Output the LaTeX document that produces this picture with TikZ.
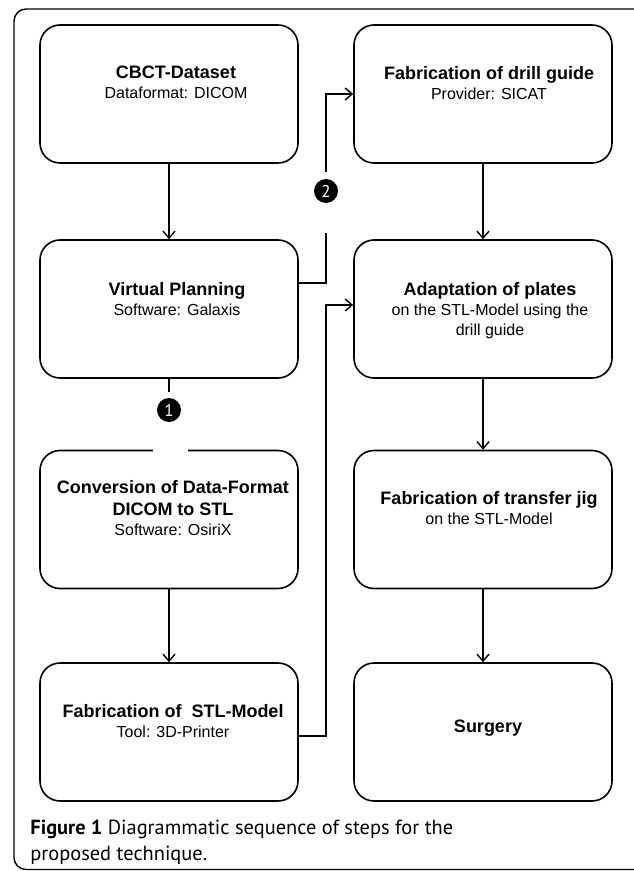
\documentclass[tikz,border=0pt]{standalone}
\usepackage{fontspec}
\setmainfont{Liberation Sans}
\newfontfamily\capfont{PT Sans}
\usetikzlibrary{arrows.meta}

\tikzset{
 stepbox/.style={draw, rounded corners=10pt, minimum width=129pt, minimum height=69pt, line width=0.8pt},
 steptext/.style={anchor=north, align=center, inner sep=0pt, font=\fontsize{8}{10}\selectfont},
 flow/.style={line width=0.7pt, -{Straight Barb[length=3.5pt,width=6pt]}},
 wire/.style={line width=0.7pt},
 numdot/.style={circle, fill=black, text=white, minimum size=12pt, inner sep=0pt, font=\capfont\fontsize{8.5}{8.5}\selectfont}
}
\newcommand{\hd}[1]{{\fontsize{9}{10}\selectfont\bfseries #1}}

\begin{document}
\begin{tikzpicture}[x=0.5pt,y=-0.5pt]
\useasboundingbox (0,0) rectangle (633,871);

%frame
\draw[line width=0.7pt, rounded corners=6pt] (700,9) -- (14,9) -- (14,869.5) -- (700,869.5);

%left column
\node[stepbox] (cbct) at (169,94) {};
\node[stepbox] (plan) at (169,309) {};
\node[stepbox] (conv) at (169,519.5) {};
\node[stepbox] (stl) at (169,732) {};

%right column
\node[stepbox] (drill) at (483,94) {};
\node[stepbox] (adapt) at (483,309) {};
\node[stepbox] (jig) at (483,519.5) {};
\node[stepbox] (surg) at (483,732) {};

%texts
\node[steptext] (cbct-t) at (176,66) {\hd{CBCT-Dataset}\\Dataformat: DICOM};
\node[steptext] (plan-t) at (177,282) {\hd{Virtual Planning}\\Software: Galaxis};
\node[steptext] (conv-t) at (173,480) {\hd{Conversion of Data-Format}\\[1pt]\hd{DICOM to STL}\\Software: OsiriX};
\node[steptext] (stl-t) at (173,704) {\hd{Fabrication of~~STL-Model}\\Tool: 3D-Printer};
\node[steptext] (drill-t) at (489,66) {\hd{Fabrication of drill guide}\\Provider: SICAT};
\node[steptext] (adapt-t) at (490,282) {\hd{Adaptation of plates}\\on the STL-Model using the\\drill guide};
\node[steptext] (jig-t) at (489,491) {\hd{Fabrication of transfer jig}\\on the STL-Model};
\node[steptext] (surg-t) at (488,720) {\hd{Surgery}};

%straight arrows
\draw[flow] (cbct) -- (plan);
\draw[flow] (conv) -- (stl);
\draw[flow] (drill) -- (adapt);
\draw[flow] (adapt) -- (jig);
\draw[flow] (jig) -- (surg);

%step 1
\node[numdot] (one) at (169,410) {1};
\draw[wire] (plan) -- ([yshift=3pt]one.north);
\draw[white, line width=2pt] (153,451) -- (188,451);

%step 2
\node[numdot] (two) at (326,191) {2};
\coordinate (up2) at ([yshift=3.5pt]two.north);
\coordinate (low2) at (326,233);
\draw[flow] (up2) |- (drill.west);
\draw[wire] (low2) |- ([yshift=13pt]plan.east);

%model to plates
\coordinate (bend) at (326,305);
\draw[flow] ([yshift=-2pt]stl.east) -| (bend) -- ([yshift=2pt]adapt.west);

%caption
\node[anchor=north west, inner sep=0pt, align=left, font=\capfont\fontsize{10.2}{13}\selectfont] (cap) at (30,820) {\textbf{Figure 1} Diagrammatic sequence of steps for the\\proposed technique.};

\end{tikzpicture}
\end{document}
